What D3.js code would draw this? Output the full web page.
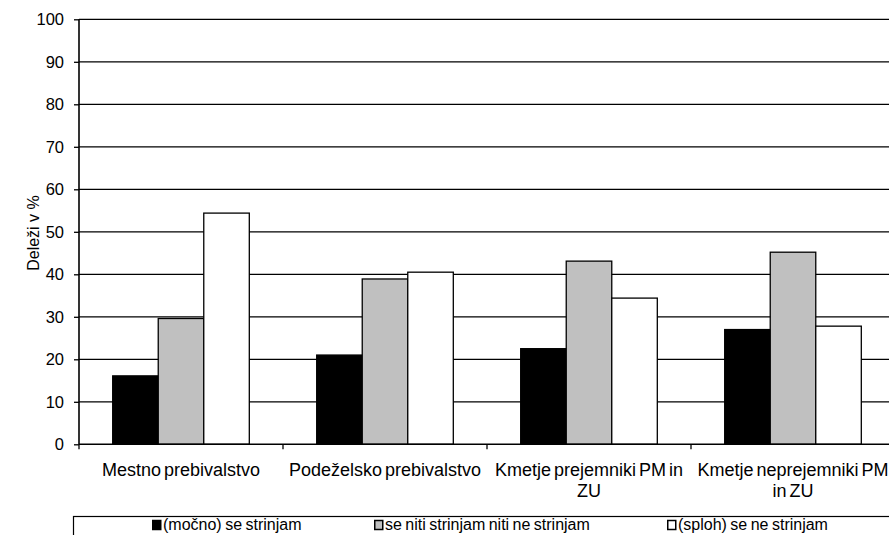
<!DOCTYPE html>
<html><head><meta charset="utf-8">
<script src="https://cdn.jsdelivr.net/npm/d3@7"></script>
<style>body{margin:0;background:#fff}svg{display:block}text{font-family:"Liberation Sans",Arial,sans-serif}</style>
</head><body><svg id="c" width="889" height="535"></svg>
<script>
const categories = [["Mestno prebivalstvo"],["Podeželsko prebivalstvo"],["Kmetje prejemniki PM in","ZU"],["Kmetje neprejemniki PM","in ZU"]];
const seriesNames = ["(močno) se strinjam","se niti strinjam niti ne strinjam","(sploh) se ne strinjam"];
const strongly = [16.1, 21.0, 22.5, 27.0];
const neutral = [29.6, 38.9, 43.1, 45.2];
const disagree = [54.4, 40.5, 34.4, 27.8];
const yTicks = [0,10,20,30,40,50,60,70,80,90,100];
const colors = ["#000000","#c0c0c0","#ffffff"];
const series = [strongly, neutral, disagree];

const svg = d3.select("#c");
const x0 = d3.scaleBand().domain(d3.range(categories.length)).range([79, 895]).paddingInner(0).paddingOuter(0);
const x1 = d3.scaleBand().domain(d3.range(series.length)).range([0, x0.bandwidth()]).paddingOuter(0.74).paddingInner(0);
const y = d3.scaleLinear().domain([0,100]).range([444.3, 19.3]);

// gridlines
svg.append("g").selectAll("line").data(yTicks.filter(d=>d>0)).join("line")
  .attr("x1",79).attr("x2",889).attr("y1",d=>y(d)).attr("y2",d=>y(d))
  .attr("stroke","#000").attr("stroke-width",1.3);

// bars
const g = svg.append("g");
series.forEach((vals, si) => {
  g.selectAll(null).data(vals).join("rect")
    .attr("x",(d,i)=>x0(i)+x1(si))
    .attr("y",d=>y(d))
    .attr("width",x1.bandwidth())
    .attr("height",d=>y(0)-y(d))
    .attr("fill",colors[si]).attr("stroke","#000").attr("stroke-width",1.3);
});

// y axis
const ya = svg.append("g").attr("transform","translate(79,0)")
  .call(d3.axisLeft(y).tickValues(yTicks).tickSize(5).tickPadding(10));
ya.select(".domain").attr("stroke","#000").attr("stroke-width",1.6).attr("d","M0,"+y(100)+"V"+y(0));
ya.selectAll(".tick line").attr("stroke","#000").attr("stroke-width",1.3);
ya.selectAll("text").attr("font-size",16.5).attr("fill","#000").attr("font-family","Liberation Sans, Arial, sans-serif");

// x axis
const xa = svg.append("g").attr("transform","translate(0,"+y(0)+")");
xa.append("line").attr("x1",79).attr("x2",889).attr("stroke","#000").attr("stroke-width",1.6);
xa.selectAll(".tk").data(d3.range(categories.length+1)).join("line").attr("class","tk")
  .attr("x1",i=>79+i*x0.bandwidth()).attr("x2",i=>79+i*x0.bandwidth())
  .attr("y1",0).attr("y2",5).attr("stroke","#000").attr("stroke-width",1.3);
categories.forEach((lines,i)=>{
  const cx = x0(i)+x0.bandwidth()/2;
  const t = svg.append("text").attr("x",cx).attr("y",476)
    .attr("text-anchor","middle").attr("font-size",18).attr("word-spacing",-2).attr("fill","#000");
  lines.forEach((l,k)=>t.append("tspan").attr("x",cx).attr("dy",k?21:0).text(l));
});

// y label
svg.append("text").attr("transform","translate(39,233) rotate(-90)").attr("text-anchor","middle")
  .attr("font-size",16).attr("fill","#000").text("Deleži v %");

// legend
svg.append("rect").attr("x",73.5).attr("y",516.5).attr("width",830).attr("height",30)
  .attr("fill","#fff").attr("stroke","#000").attr("stroke-width",1.2);
const legX = [152, 374, 667];
seriesNames.forEach((n,i)=>{
  svg.append("rect").attr("x",legX[i]+0.75).attr("y",520.5).attr("width",8).attr("height",9)
    .attr("fill",colors[i]).attr("stroke","#000").attr("stroke-width",1.5);
  svg.append("text").attr("x",legX[i]+11).attr("y",530).attr("font-size",16).attr("word-spacing",-1).attr("fill","#000").text(n);
});
</script></body></html>
